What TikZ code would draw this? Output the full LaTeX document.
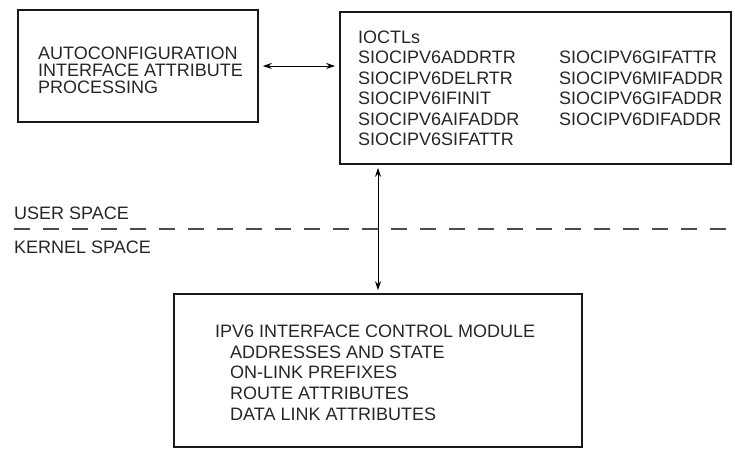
\documentclass[tikz,border=0pt]{standalone}
\usepackage{fontspec}
\setmainfont{Liberation Sans}
\usetikzlibrary{arrows.meta}
\begin{document}
\begin{tikzpicture}[x=1pt,y=1pt,
  box/.style={draw=black!90, line width=1.6pt, rectangle, inner sep=0pt},
  txt/.style={anchor=base west, inner sep=0pt, text=black!85, font=\fontsize{18}{20}\selectfont},
  arr/.style={line width=0.9pt, {Stealth[length=9pt,width=6pt]}-{Stealth[length=9pt,width=6pt]}},
  divider/.style={draw=black!70, line width=1.3pt, dash pattern=on 16pt off 13pt}]
\useasboundingbox (0,0) rectangle (735,449);
% boxes
\node[box, minimum width=240pt, minimum height=112pt] (b1) at (138,383) {};
\node[box, minimum width=391pt, minimum height=152pt] (b2) at (535.5,361) {};
\node[box, minimum width=408pt, minimum height=153pt] (b3) at (378,78.5) {};
% box 1 text
\node[txt] (t11) at (38,389.5) {AUTOCONFIGURATION};
\node[txt] (t12) at (38,372.5) {INTERFACE ATTRIBUTE};
\node[txt] (t13) at (38,355.5) {PROCESSING};
% box 2 text, column 1
\node[txt] (c10) at (358,405.5) {IOCTLs};
\node[txt] (c11) at (358,385.1) {SIOCIPV6ADDRTR};
\node[txt] (c12) at (358,364.7) {SIOCIPV6DELRTR};
\node[txt] (c13) at (358,344.3) {SIOCIPV6IFINIT};
\node[txt] (c14) at (358,323.9) {SIOCIPV6AIFADDR};
\node[txt] (c15) at (358,303.5) {SIOCIPV6SIFATTR};
% box 2 text, column 2
\node[txt] (c21) at (559,385.1) {SIOCIPV6GIFATTR};
\node[txt] (c22) at (559,364.7) {SIOCIPV6MIFADDR};
\node[txt] (c23) at (559,344.3) {SIOCIPV6GIFADDR};
\node[txt] (c24) at (559,323.9) {SIOCIPV6DIFADDR};
% box 3 text
\node[txt] (m0) at (215,111) {IPV6 INTERFACE CONTROL MODULE};
\node[txt] (m1) at (230,90.5) {ADDRESSES AND STATE};
\node[txt] (m2) at (230,70) {ON-LINK PREFIXES};
\node[txt] (m3) at (230,49) {ROUTE ATTRIBUTES};
\node[txt] (m4) at (230,28) {DATA LINK ATTRIBUTES};
% user / kernel divider
\coordinate (dl) at (14,220);
\coordinate (dr) at (735,220);
\draw[divider] (dl) -- (dr);
\node[txt] (us) at (14,229.5) {USER SPACE};
\node[txt] (ks) at (14,195.5) {KERNEL SPACE};
% connectors
\draw[arr] ([xshift=4pt]b1.east) -- ([xshift=-4pt]b2.west |- b1.east);
\draw[arr] ([yshift=-3pt]b2.south -| b3.north) -- ([yshift=3pt]b3.north);
\end{tikzpicture}
\end{document}
